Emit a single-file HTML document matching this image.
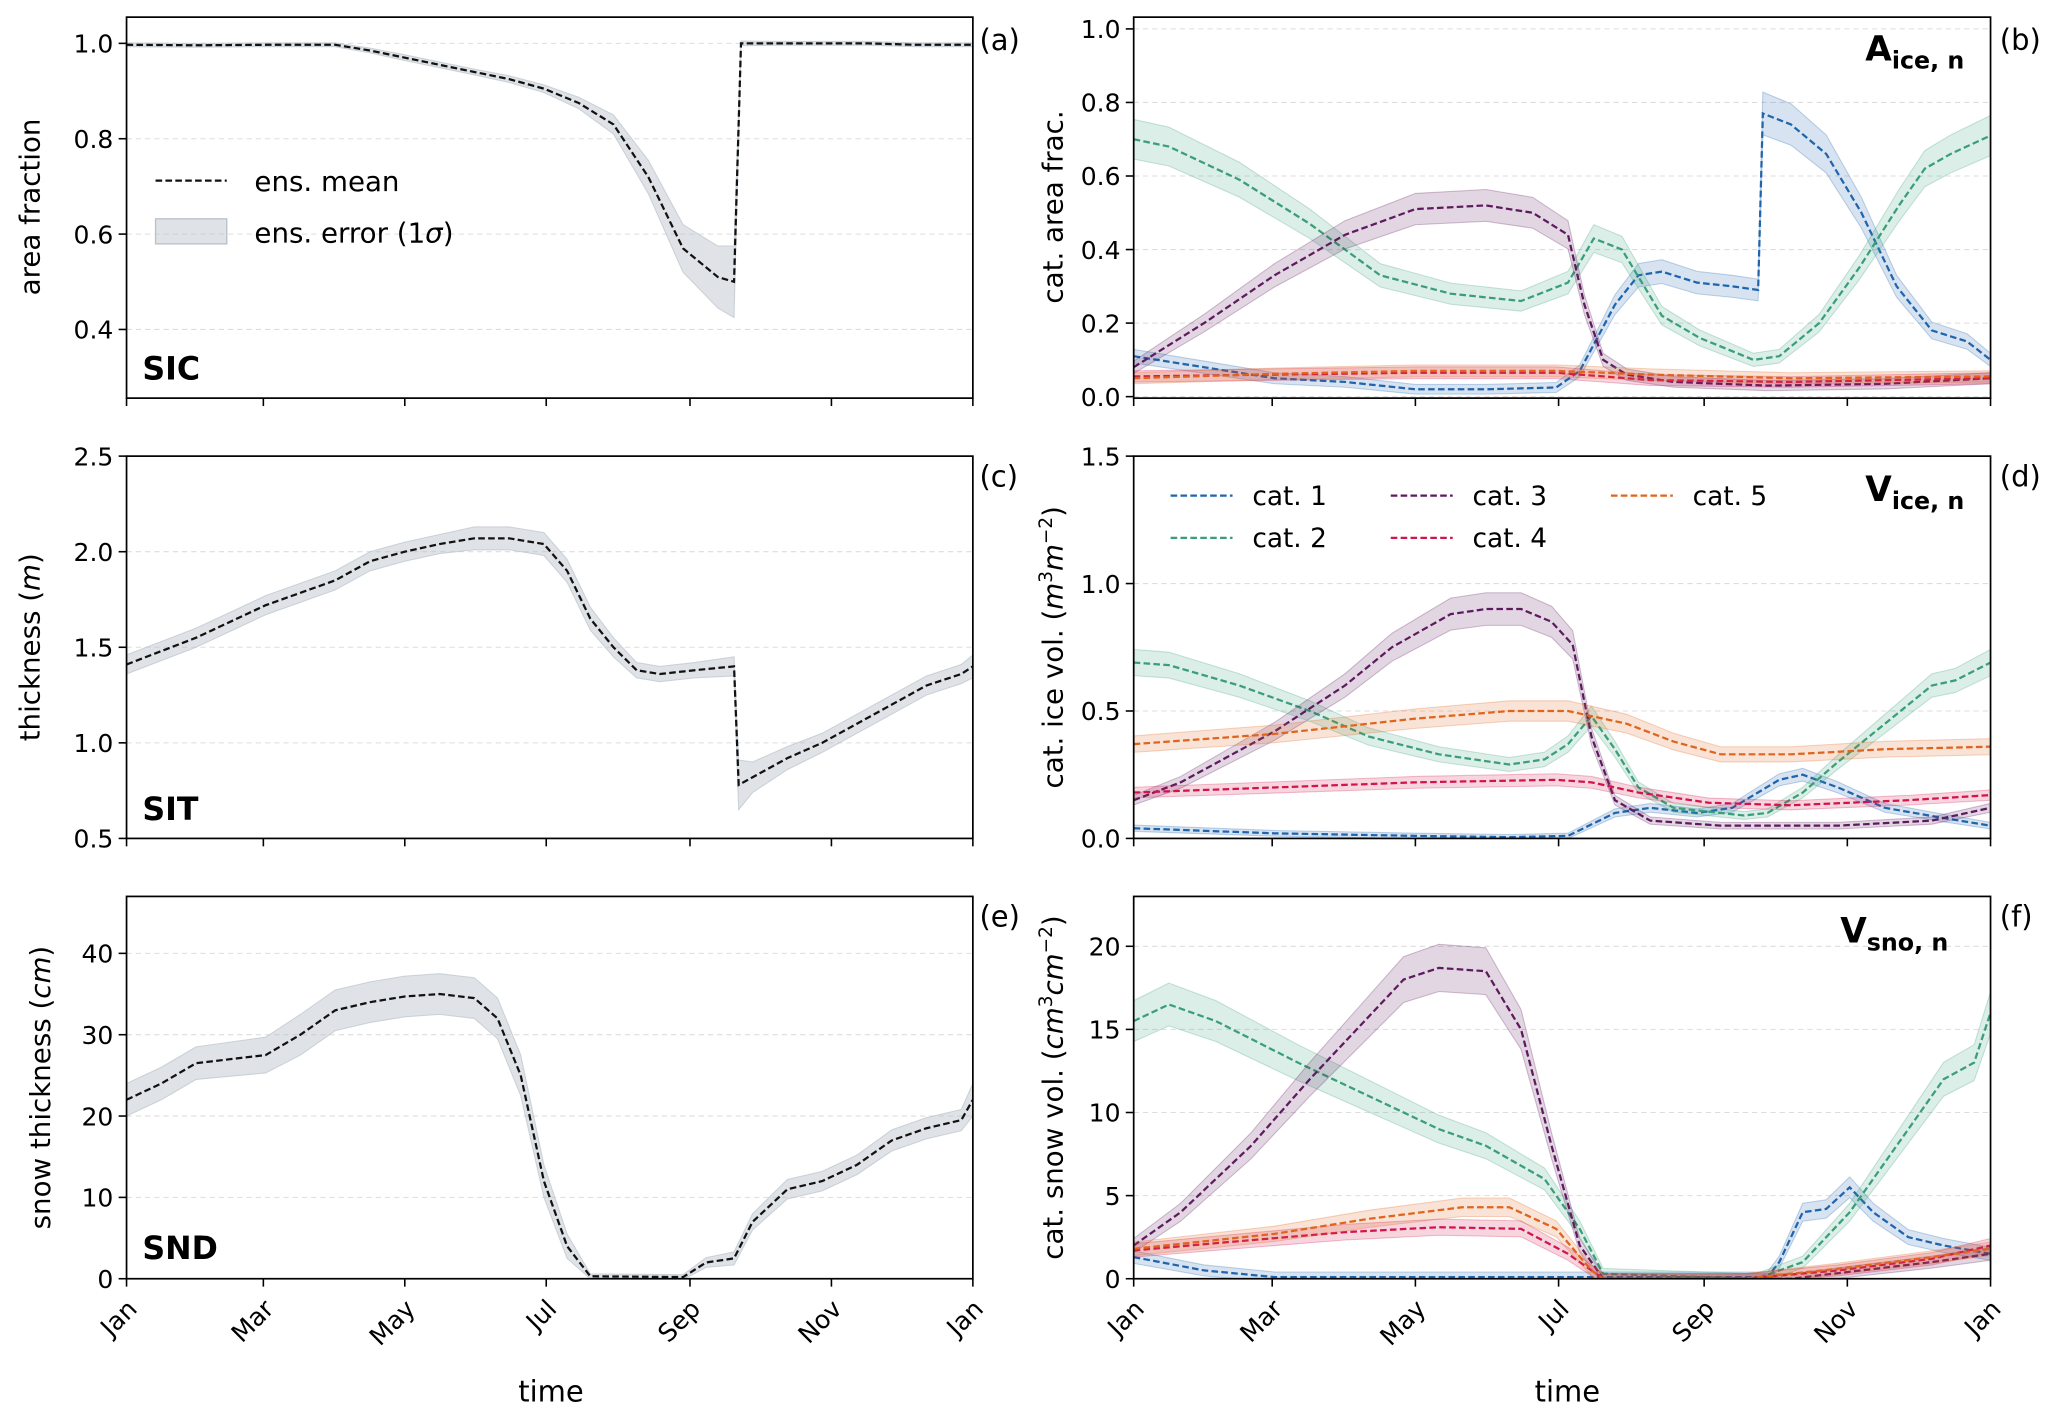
<!DOCTYPE html>
<html><head><meta charset="utf-8"><style>
html,body{margin:0;padding:0;background:#fff}
svg{display:block;font-family:"DejaVu Sans","Liberation Sans",sans-serif}
</style></head><body>
<svg id="fig" width="2067" height="1424" viewBox="0 0 1568 1080.2" preserveAspectRatio="none" xmlns="http://www.w3.org/2000/svg"></svg>
<script>
const monthLabels=["Jan","Mar","May","Jul","Sep","Nov","Jan"];
const monthDays=[0,59,120,181,243,304,365];
// (a) SIC
const aDays=[0,30,60,90,105,120,135,150,165,180,195,210,225,240,255,262,265,280,300,320,340,365];
const aMean=[0.997,0.996,0.997,0.997,0.985,0.97,0.955,0.94,0.925,0.905,0.875,0.83,0.72,0.57,0.51,0.50,1.0,1.0,1.0,1.0,0.997,0.997];
const aSd=[0.004,0.004,0.004,0.004,0.005,0.006,0.006,0.006,0.007,0.008,0.012,0.02,0.035,0.05,0.065,0.075,0.005,0.004,0.004,0.004,0.004,0.004];
// (c) SIT
const cDays=[0,30,60,90,105,120,135,150,165,180,190,200,210,220,230,245,262,264,270,285,300,315,330,345,360,365];
const cMean=[1.41,1.55,1.72,1.85,1.95,2.0,2.04,2.07,2.07,2.04,1.9,1.65,1.5,1.38,1.36,1.38,1.40,0.78,0.82,0.92,1.0,1.1,1.2,1.3,1.36,1.4];
const cSd=[0.05,0.05,0.05,0.05,0.05,0.05,0.05,0.06,0.06,0.06,0.06,0.06,0.05,0.04,0.04,0.04,0.05,0.13,0.08,0.06,0.05,0.05,0.05,0.05,0.05,0.06];
// (e) SND
const eDays=[0,15,30,60,75,90,105,120,135,150,160,170,180,190,200,240,250,262,270,285,300,315,330,345,360,365];
const eMean=[22,24,26.5,27.5,30,33,34,34.7,35,34.5,32,25,12,4,0.3,0.2,2,2.5,7,11,12,14,17,18.5,19.5,22];
const eSd=[2,2,2,2.2,2.5,2.5,2.5,2.5,2.5,2.5,2.5,2.5,2,1.5,0.3,0.3,0.6,0.8,1,1.2,1.2,1.2,1.3,1.3,1.3,2];
// (b) Aice per category
const b1Days=[0,30,60,90,120,150,180,190,205,215,225,240,255,266,268,280,295,310,325,340,355,365];
const b1Vals=[0.11,0.08,0.05,0.04,0.02,0.02,0.025,0.07,0.25,0.33,0.34,0.31,0.30,0.29,0.77,0.74,0.66,0.50,0.30,0.18,0.15,0.10];
const b2Days=[0,15,45,75,105,135,165,185,196,208,225,241,264,275,292,309,326,337,348,365];
const b2Vals=[0.70,0.68,0.59,0.47,0.33,0.28,0.26,0.31,0.43,0.40,0.22,0.16,0.10,0.11,0.20,0.35,0.52,0.62,0.66,0.71];
const b3Days=[0,30,60,90,120,150,170,185,192,200,210,230,270,320,365];
const b3Vals=[0.08,0.2,0.33,0.44,0.51,0.52,0.50,0.44,0.25,0.10,0.06,0.04,0.03,0.035,0.05];
const b4Days=[0,60,120,180,220,280,365];
const b4Vals=[0.055,0.06,0.065,0.065,0.045,0.04,0.05];
const b5Days=[0,60,120,180,220,280,365];
const b5Vals=[0.05,0.062,0.07,0.07,0.06,0.05,0.055];
// (d) Vice per category
const d1Days=[0,60,120,160,185,205,220,240,255,275,285,300,320,345,365];
const d1Vals=[0.04,0.02,0.01,0.005,0.01,0.1,0.12,0.1,0.12,0.23,0.25,0.2,0.12,0.08,0.05];
const d2Days=[0,15,45,75,100,130,160,175,185,195,205,215,230,260,270,285,300,320,340,350,365];
const d2Vals=[0.69,0.68,0.6,0.5,0.4,0.33,0.29,0.31,0.37,0.48,0.35,0.2,0.12,0.09,0.1,0.18,0.3,0.45,0.6,0.62,0.69];
const d3Days=[0,20,60,90,110,135,150,165,178,187,195,205,220,250,300,340,365];
const d3Vals=[0.15,0.22,0.42,0.6,0.75,0.88,0.9,0.9,0.85,0.76,0.4,0.15,0.07,0.05,0.05,0.07,0.12];
const d4Days=[0,60,120,180,195,215,245,280,330,365];
const d4Vals=[0.18,0.2,0.22,0.23,0.22,0.18,0.14,0.13,0.15,0.17];
const d5Days=[0,60,120,160,185,210,230,250,280,320,365];
const d5Vals=[0.37,0.41,0.47,0.5,0.5,0.45,0.38,0.33,0.33,0.35,0.36];
// (f) Vsno per category
const f1Days=[0,30,60,270,275,285,295,305,315,330,345,365];
const f1Vals=[1.3,0.5,0.1,0.1,1,4,4.2,5.5,4,2.5,2,1.5];
const f2Days=[0,15,35,70,100,130,150,175,190,200,265,285,305,325,345,358,365];
const f2Vals=[15.5,16.5,15.5,13,11,9,8,6,3,0.3,0,1,4,8,12,13,16];
const f3Days=[0,20,50,75,95,115,130,150,165,178,190,200,280,310,340,365];
const f3Vals=[2,4,8,12,15,18,18.7,18.5,15,8,2,0,0,0.5,1,1.5];
const f4Days=[0,40,90,130,165,185,200,260,300,340,365];
const f4Vals=[1.7,2.2,2.8,3.1,3.0,1.5,0,0,0.5,1.2,2];
const f5Days=[0,60,100,140,160,180,195,200,260,300,340,365];
const f5Vals=[1.8,2.7,3.6,4.3,4.3,3,0.5,0,0,0.6,1.3,1.8];

const NS="http://www.w3.org/2000/svg";
const svg=document.getElementById('fig');
const catColors=["#1f64ad","#3a9e78","#5e1a5e","#d2144c","#e0641c"];
function mk(tag,attrs,parent){const e=document.createElementNS(NS,tag);for(const k in attrs)e.setAttribute(k,attrs[k]);(parent||svg).appendChild(e);return e;}
function txt(s,x,y,size,opts,parent){const t=mk('text',Object.assign({x:x,y:y,'font-size':size,fill:'#000'},opts||{}),parent);t.textContent=s;return t;}

function makePanel(name,x0,x1,yTop,yBot,ymin,ymax,ticks,tickFmt){
  const g=mk('g',{});
  
  
  const xs=d=>x0+(d/365)*(x1-x0);
  const ys=v=>yBot-(v-ymin)/(ymax-ymin)*(yBot-yTop);
  ticks.forEach(v=>{
    const y=ys(v);
    const gl=mk('line',{x1:x0,x2:x1,y1:y,y2:y,stroke:'#ddd','stroke-width':0.8,'stroke-dasharray':'4,3'},g);
    
    
    mk('line',{x1:x0-6,x2:x0,y1:y,y2:y,stroke:'#000','stroke-width':1.2},g);
    const t=txt(tickFmt(v),x0-10,y+7,19,{'text-anchor':'end'},g);
    
    
  });
  monthDays.forEach(d=>{mk('line',{x1:xs(d),x2:xs(d),y1:yBot,y2:yBot+6,stroke:'#000','stroke-width':1.2},g);});
  const clip=mk('clipPath',{id:'clip-'+name},g);
  mk('rect',{x:x0,y:yTop,width:x1-x0,height:yBot-yTop},clip);
  const plot=mk('g',{'clip-path':'url(#clip-'+name+')'},g);
  const frame=mk('rect',{x:x0,y:yTop,width:x1-x0,height:yBot-yTop,fill:'none',stroke:'#000','stroke-width':1.3},g);
  
  
  return {g,plot,xs,ys,x0,x1,yTop,yBot};
}
function drawSeries(p,days,vals,sds,color,fillColor,fillOp,name){
  const up=days.map((d,i)=>p.xs(d)+','+p.ys(vals[i]+sds[i]));
  const dn=days.map((d,i)=>p.xs(d)+','+p.ys(vals[i]-sds[i])).reverse();
  const band=mk('polygon',{points:up.concat(dn).join(' '),fill:fillColor,'fill-opacity':fillOp,stroke:fillColor,'stroke-opacity':fillOp*1.5,'stroke-width':0.8},p.plot);
  
  
  const line=mk('polyline',{points:days.map((d,i)=>p.xs(d)+','+p.ys(vals[i])).join(' '),fill:'none',stroke:color,'stroke-width':1.7,'stroke-dasharray':'5,2.5'},p.plot);
  
  
}
function ylabel(html,x,yc){
  const t=mk('text',{x:0,y:0,'font-size':21,'text-anchor':'middle',transform:`translate(${x},${yc}) rotate(-90)`});
  t.innerHTML=html;
  
  
}
function xticklabels(p){
  monthDays.forEach((d,i)=>{
    const x=p.xs(d),y=p.yBot+16;
    const t=txt(monthLabels[i],0,0,19,{'text-anchor':'end',transform:`translate(${x+9},${y+8}) rotate(-45)`});
    
    
  });
}
function letter(s,x,y){const t=txt(s,x,y,22,{});}
function bigLabel(s,x,y){const t=txt(s,x,y,24,{'font-weight':'bold'});}
function catLines(p,list,sdFn,pref){list.forEach((s,i)=>drawSeries(p,s[0],s[1],s[1].map(sdFn),catColors[i],catColors[i],0.18,pref+'-cat-'+(i+1)));}

const f1=v=>v.toFixed(1);
const LX0=96,LX1=738,RX0=860,RX1=1510;
// (a)
const pa=makePanel('panel-a-sic',LX0,LX1,13,302,0.256,1.055,[0.4,0.6,0.8,1.0],f1);
drawSeries(pa,aDays,aMean,aSd,'#111','#b8c2c9',0.45,'sic');
ylabel('area fraction',30,157);letter('(a)',743,38);bigLabel('SIC',108,288);
// legend a
mk('line',{x1:118,x2:172,y1:137,y2:137,stroke:'#111','stroke-width':1.7,'stroke-dasharray':'5,2.5'});
txt('ens. mean',193,145,21,{});
mk('rect',{x:118,y:166,width:54,height:19,fill:'#b8c2c9','fill-opacity':0.45,stroke:'#b8c2c9'});
const lt=mk('text',{x:193,y:184,'font-size':21});lt.innerHTML='ens. error (1<tspan font-style="italic">σ</tspan>)';
// (b)
const pb=makePanel('panel-b-aice',RX0,RX1,13,302,-0.004,1.032,[0,0.2,0.4,0.6,0.8,1.0],f1);
catLines(pb,[[b1Days,b1Vals],[b2Days,b2Vals],[b3Days,b3Vals],[b4Days,b4Vals],[b5Days,b5Vals]],v=>0.012+v*0.06,'aice');
ylabel('cat. area frac.',806,157);letter('(b)',1517,38);
const lb=mk('text',{x:1415,y:46,'font-size':26,'font-weight':'bold'});lb.innerHTML='A<tspan font-size="18" dy="6">ice, n</tspan>';
// (c)
const pc=makePanel('panel-c-sit',LX0,LX1,346,636,0.5,2.5,[0.5,1.0,1.5,2.0,2.5],f1);
drawSeries(pc,cDays,cMean,cSd,'#111','#b8c2c9',0.45,'sit');
ylabel('thickness (<tspan font-style="italic">m</tspan>)',30,491);letter('(c)',743,369);bigLabel('SIT',108,622);
// (d)
const pd=makePanel('panel-d-vice',RX0,RX1,346,636,0,1.5,[0,0.5,1.0,1.5],f1);
catLines(pd,[[d1Days,d1Vals],[d2Days,d2Vals],[d3Days,d3Vals],[d4Days,d4Vals],[d5Days,d5Vals]],v=>0.01+v*0.06,'vice');
ylabel('cat. ice vol. (<tspan font-style="italic">m</tspan><tspan font-size="14" dy="-8">3</tspan><tspan font-style="italic" dy="8">m</tspan><tspan font-size="14" dy="-8">−2</tspan><tspan dy="8">)</tspan>',806,491);
letter('(d)',1517,369);
const ld=mk('text',{x:1415,y:380,'font-size':26,'font-weight':'bold'});ld.innerHTML='V<tspan font-size="18" dy="6">ice, n</tspan>';
const legNames=['cat. 1','cat. 2','cat. 3','cat. 4','cat. 5'];
const legPos=[[888,376],[888,408],[1055,376],[1055,408],[1222,376]];
legNames.forEach((n,i)=>{
  const g=mk('g',{});
  
  
  mk('line',{x1:legPos[i][0],x2:legPos[i][0]+47,y1:legPos[i][1],y2:legPos[i][1],stroke:catColors[i],'stroke-width':1.7,'stroke-dasharray':'5,2.5'},g);
  txt(n,legPos[i][0]+62,legPos[i][1]+7,20,{},g);
});
// (e)
const pe=makePanel('panel-e-snd',LX0,LX1,680,970,0,47,[0,10,20,30,40],v=>String(v));
drawSeries(pe,eDays,eMean,eSd,'#111','#b8c2c9',0.45,'snd');
ylabel('snow thickness (<tspan font-style="italic">cm</tspan>)',38,825);letter('(e)',743,703);bigLabel('SND',108,955);
xticklabels(pe);
// (f)
const pf=makePanel('panel-f-vsno',RX0,RX1,680,970,0,23.0,[0,5,10,15,20],v=>String(v));
catLines(pf,[[f1Days,f1Vals],[f2Days,f2Vals],[f3Days,f3Vals],[f4Days,f4Vals],[f5Days,f5Vals]],v=>0.3+v*0.06,'vsno');
ylabel('cat. snow vol. (<tspan font-style="italic">cm</tspan><tspan font-size="14" dy="-8">3</tspan><tspan font-style="italic" dy="8">cm</tspan><tspan font-size="14" dy="-8">−2</tspan><tspan dy="8">)</tspan>',806,825);
letter('(f)',1517,703);
const lf=mk('text',{x:1396,y:715,'font-size':26,'font-weight':'bold'});lf.innerHTML='V<tspan font-size="18" dy="6">sno, n</tspan>';
xticklabels(pf);
const t1=txt('time',418,1063,22,{'text-anchor':'middle'});
const t2=txt('time',1189,1063,22,{'text-anchor':'middle'});
</script>
</body></html>
